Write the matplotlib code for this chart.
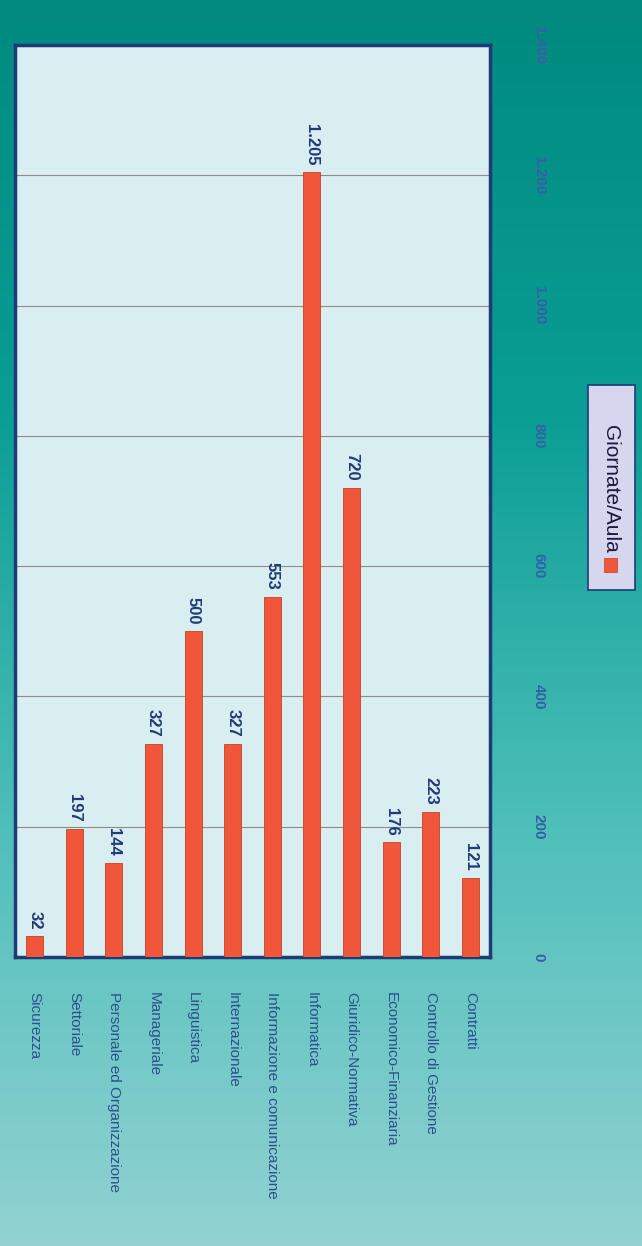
import matplotlib.pyplot as plt
import numpy as np
from matplotlib.colors import LinearSegmentedColormap
from matplotlib.patches import Rectangle

categorie = ["Sicurezza", "Settoriale", "Personale ed Organizzazione", "Manageriale",
             "Linguistica", "Internazionale", "Informazione e comunicazione",
             "Informatica", "Giuridico-Normativa", "Economico-Finanziaria",
             "Controllo di Gestione", "Contratti"]
giornate = [32, 197, 144, 327, 500, 327, 553, 1205, 720, 176, 223, 121]
tick_vals = [0, 200, 400, 600, 800, 1000, 1200, 1400]
serie = "Giornate/Aula"

navy = "#1F3A78"
barcol = "#F0573A"
narrow = ["Liberation Sans Narrow", "Liberation Sans", "DejaVu Sans"]


def fmt(v):
    return f"{v:,}".replace(",", ".")


fig = plt.figure(figsize=(6.42, 12.46), dpi=100)

# sfondo sfumato
bg = fig.add_axes([0, 0, 1, 1], zorder=-10)
cmap = LinearSegmentedColormap.from_list("bg", ["#008A80", "#0A9E95", "#4FBFBA", "#92D2D2"])
bg.imshow(np.linspace(0, 1, 256).reshape(-1, 1), aspect="auto", cmap=cmap,
          extent=[0, 1, 0, 1])
bg.axis("off")

ax = fig.add_axes([15 / 642, (1246 - 957) / 1246, 475 / 642, 912 / 1246])
ax.set_facecolor("#D9EEF0")
x = np.arange(len(categorie))
ax.bar(x, giornate, width=0.43, color=barcol, edgecolor="#C8401F", linewidth=0.6, zorder=3)

for xi, v in zip(x, giornate):
    ax.annotate(fmt(v), (xi, v), xytext=(0, 5), textcoords="offset points",
                rotation=-90, ha="center", va="bottom", fontsize=12,
                fontweight="bold", color=navy, family=narrow)

ax.set_xlim(-0.5, len(categorie) - 0.5)
ax.set_ylim(0, 1400)
ax.set_yticks(tick_vals)
ax.yaxis.tick_right()
ax.set_yticklabels([fmt(t) for t in tick_vals], rotation=-90, va="center",
                   ha="left", fontsize=11, fontweight="bold", color="#3560A8",
                   family=narrow)
ax.tick_params(axis="y", length=0, pad=30)
ax.set_xticks(x)
ax.set_xticklabels(categorie, rotation=-90, ha="center", va="top",
                   fontsize=11, color="#2E4E8E", family=narrow)
ax.tick_params(axis="x", length=0, pad=25)
ax.grid(axis="y", color="#8C8C8C", linewidth=0.8, zorder=0)
for s in ax.spines.values():
    s.set_color(navy)
    s.set_linewidth(2.5)

# legenda ruotata
W, H = 642, 1246
fig.patches.append(Rectangle((588 / W, (H - 590) / H), 47 / W, 205 / H,
                             transform=fig.transFigure, facecolor="#D6D6EE",
                             edgecolor=navy, linewidth=1.2, zorder=5))
fig.patches.append(Rectangle((604 / W, (H - 572) / H), 13 / W, 14 / H,
                             transform=fig.transFigure, facecolor=barcol,
                             edgecolor="#C8401F", linewidth=0.5, zorder=6))
fig.text(611 / W, (H - 553) / H, serie, rotation=-90, ha="center", va="bottom",
         fontsize=15, color="#1A1A40", zorder=7,
         family=["Liberation Sans", "DejaVu Sans"])

fig.savefig("out.png", dpi=100)
plt.close(fig)
